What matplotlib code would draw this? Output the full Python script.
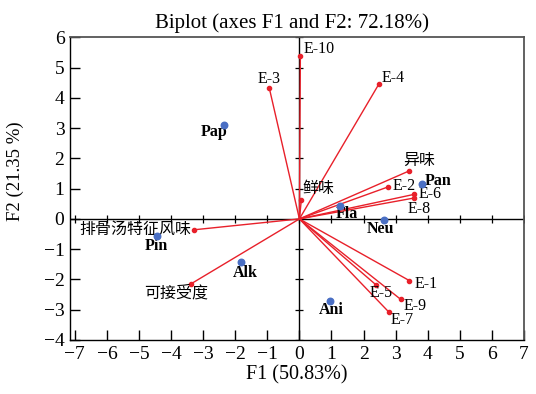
import matplotlib
matplotlib.use('Agg')
import matplotlib.pyplot as plt
import numpy as np

plt.rcParams['font.family'] = ['Liberation Serif', 'Noto Sans CJK SC']
plt.rcParams['axes.unicode_minus'] = True

# variables (red vectors)
var_names = ['E-10', 'E-3', 'E-4', '异味', 'E-2', 'E-6', 'E-8', '鲜味',
             '排骨汤特征风味', '可接受度', 'E-1', 'E-5', 'E-9', 'E-7']
var_x = [0.03, -0.94, 2.48, 3.43, 2.77, 3.57, 3.57, 0.06,
         -3.29, -3.37, 3.43, 2.40, 3.16, 2.79]
var_y = [5.37, 4.33, 4.46, 1.59, 1.06, 0.81, 0.69, 0.62,
         -0.36, -2.14, -2.04, -2.19, -2.66, -3.08]
# label offsets in pixels and alignment
var_off = [(3, 7, 'left'), (0, 9, 'center'), (3, 6, 'left'), (-6, 10, 'left'),
           (4, 1, 'left'), (5, 0, 'left'), (-6, -11, 'left'), (1, 11, 'left'),
           (-3, 0, 'right'), (-15, -10, 'center'), (5, -3, 'left'),
           (5, -8, 'center'), (3, -7, 'left'), (2, -8, 'left')]

# observations (blue points)
obs_names = ['Pap', 'Pan', 'Fla', 'Neu', 'Pin', 'Alk', 'Ani']
obs_x = [-2.34, 3.81, 1.26, 2.63, -4.45, -1.81, 0.94]
obs_y = [3.11, 1.14, 0.44, -0.03, -0.58, -1.41, -2.72]
obs_off = [(3, -7, 'right'), (3, 3, 'left'), (-4, -8, 'left'), (-3, -9, 'center'),
           (0, -10, 'center'), (4, -11, 'center'), (2, -9, 'center')]

red = '#e8202a'
blue = '#4a6fc4'

fig = plt.figure(figsize=(5.36, 3.94), dpi=100)
ax = fig.add_axes([0.1306, 0.1371, 0.847, 0.7682])

ax.set_xlim(-7.15, 7.0)
ax.set_ylim(-4, 6)

# cross axes with ticks
ax.axhline(0, color='black', lw=1, zorder=1)
ax.axvline(0, color='black', lw=1, zorder=1)
ticks_x = np.arange(-7, 8)
ticks_y = np.arange(-4, 7)
ax.plot(ticks_x, np.zeros_like(ticks_x), ls='none', marker='|', ms=6,
        mew=0.9, color='black', zorder=1)
ax.plot(np.zeros_like(ticks_y), ticks_y, ls='none', marker='_', ms=6,
        mew=0.9, color='black', zorder=1)

for name, x, y, (dx, dy, ha) in zip(var_names, var_x, var_y, var_off):
    ax.plot([0, x], [0, y], color=red, lw=1, zorder=2)
    ax.plot(x, y, 'o', color=red, ms=3, zorder=3)
    ax.annotate(name, (x, y), xytext=(dx, dy), textcoords='offset pixels',
                ha=ha, va='center', fontsize=11.5, color='black')

ax.scatter(obs_x, obs_y, s=22, color=blue, zorder=4)
for name, x, y, (dx, dy, ha) in zip(obs_names, obs_x, obs_y, obs_off):
    ax.annotate(name, (x, y), xytext=(dx, dy), textcoords='offset pixels',
                ha=ha, va='center', fontsize=11.5, fontweight='bold',
                color='black')

ax.set_xticks(ticks_x)
ax.set_yticks(ticks_y)
ax.tick_params(direction='in', length=7, width=1, labelsize=14, pad=4)
ax.tick_params(top=False, right=False)
for s in ['top', 'right']:
    ax.spines[s].set_color('#555555')
    ax.spines[s].set_linewidth(1.3)
for s in ['left', 'bottom']:
    ax.spines[s].set_linewidth(1)

fig.text(292 / 536, 1 - 23 / 394, 'Biplot (axes F1 and F2: 72.18%)',
         fontsize=15, ha='center', va='center')
ax.set_xlabel('F1 (50.83%)', fontsize=14.5, labelpad=2)
ax.set_ylabel('F2 (21.35 %)', fontsize=13.5)
ax.yaxis.set_label_coords(-0.101, 0.558)

fig.savefig('out.png', dpi=100)
